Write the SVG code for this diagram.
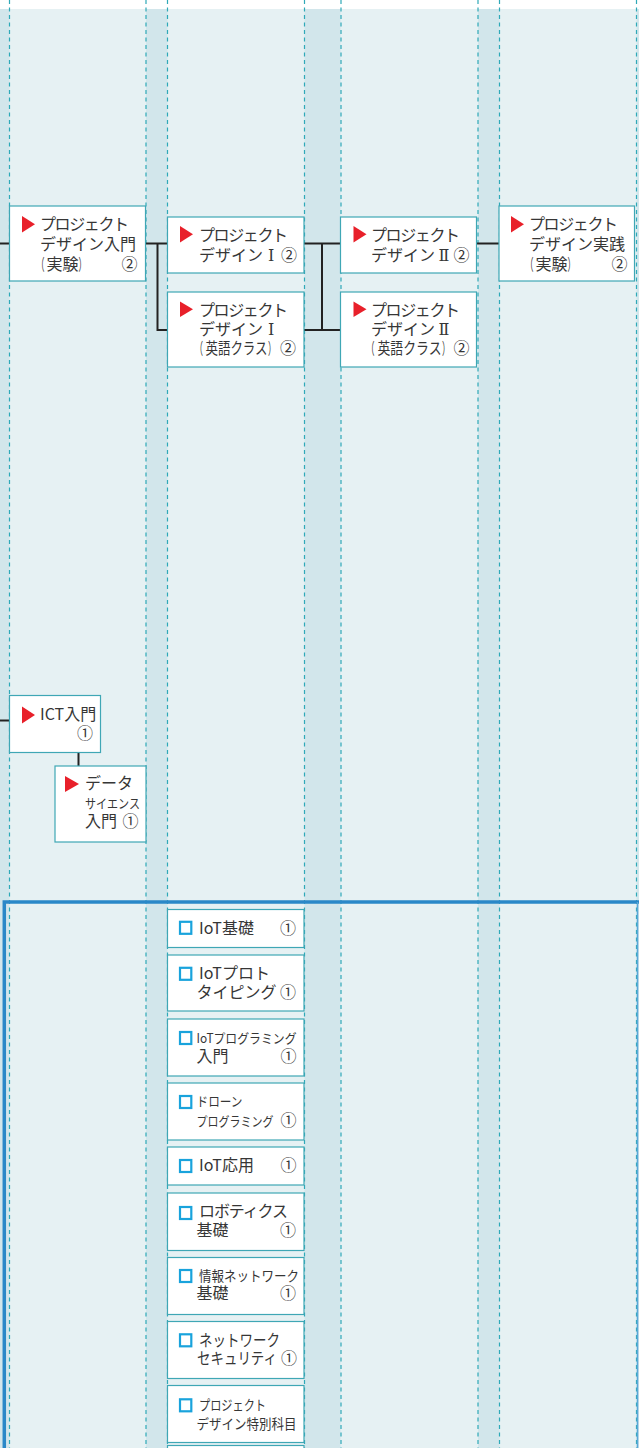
<svg xmlns="http://www.w3.org/2000/svg" width="639" height="1448" viewBox="0 0 639 1448">
<style>
.bg{fill:#e6f1f3}
.strip{fill:#d2e6eb}
.dash{stroke:#2fa9b8;stroke-width:1.2;stroke-dasharray:4 3.5;fill:none}
.box{fill:#fff;stroke:#3fa7b5;stroke-width:1.2}
.tri{fill:#e8202a}
.sq{fill:#fff;stroke:#19a3dc;stroke-width:2.2}
.con{stroke:#222;stroke-width:2;fill:none}
text{font-family:"Noto Sans CJK JP","Noto Sans",sans-serif;fill:#363636;font-size:16px}
.rn{font-family:"DejaVu Serif","Liberation Serif","Noto Sans CJK JP",serif}
.s13{font-size:13px}
.s14{font-size:14px}
.frame{stroke:#2a88c8;stroke-width:3.5;fill:none}
</style>
<g id="background">
<rect class="bg" x="0" y="9" width="639" height="1439"/>
<rect class="strip" x="0" y="9" width="9.5" height="1439"/>
<rect class="strip" x="146" y="9" width="21.5" height="1439"/>
<rect class="strip" x="304.5" y="9" width="36" height="1439"/>
<rect class="strip" x="478" y="9" width="21.5" height="1439"/>
<rect class="strip" x="636.5" y="9" width="2.5" height="1439"/>
<path class="dash" d="M9.5 0V1448M146 0V1448M167.5 0V1448M304.5 0V1448M341 0V1448M478 0V1448M499.5 0V1448M636.5 0V1448"/>
</g>
<g id="frame">
<path class="frame" d="M4.3 902H639M4.3 900.3V1448"/>
<path d="M637.5 902V1448" stroke="#5aa8d8" stroke-width="1.5"/>
</g>
<g id="connectors">
<path class="con" d="M0 243.5H9.5M145.5 243.5H167.5M157.5 243.5V330H167.5M304 243.5H340.5M304 330H340.5M322 243.5V330M476.5 243.5H499M0 720.5H9.5M78.5 752V766"/>
</g>
<g id="n1">
<rect class="box" x="9.5" y="206" width="136" height="75"/>
<path class="tri" d="M22 216L35 224.2L22 232.5Z"/>
<text x="40" y="230" textLength="89">プロジェクト</text>
<text x="40" y="249.5">デザイン入門</text>
<text y="270"><tspan x="36.5" textLength="8" lengthAdjust="spacingAndGlyphs">（</tspan><tspan x="46.5">実験</tspan><tspan x="78.5" textLength="8" lengthAdjust="spacingAndGlyphs">）</tspan></text>
<text x="121.5" y="270">②</text>
</g>
<g id="n2">
<rect class="box" x="167.5" y="217" width="136.5" height="56"/>
<path class="tri" d="M180 226L193 234.2L180 242.5Z"/>
<text x="199" y="241" textLength="89">プロジェクト</text>
<text x="199" y="260.5">デザイン<tspan class="rn" x="268">Ⅰ</tspan></text>
<text x="281" y="260.5">②</text>
</g>
<g id="n3">
<rect class="box" x="167.5" y="292" width="136.5" height="75"/>
<path class="tri" d="M180 301.5L193 309.2L180 317Z"/>
<text x="199" y="315.5" textLength="89">プロジェクト</text>
<text x="199" y="335">デザイン<tspan class="rn" x="268">Ⅰ</tspan></text>
<text y="354"><tspan x="195" textLength="8" lengthAdjust="spacingAndGlyphs">（</tspan><tspan x="205.5" textLength="62" lengthAdjust="spacingAndGlyphs">英語クラス</tspan><tspan x="268" textLength="8" lengthAdjust="spacingAndGlyphs">）</tspan></text>
<text x="280" y="354">②</text>
</g>
<g id="n4">
<rect class="box" x="340.5" y="217" width="136" height="56"/>
<path class="tri" d="M353.5 226L366.5 234.2L353.5 242.5Z"/>
<text x="371" y="241" textLength="89">プロジェクト</text>
<text x="371" y="260.5">デザイン<tspan class="rn" x="438.5">Ⅱ</tspan></text>
<text x="453.5" y="260.5">②</text>
</g>
<g id="n5">
<rect class="box" x="340.5" y="292" width="136" height="75"/>
<path class="tri" d="M353.5 301.5L366.5 309.2L353.5 317Z"/>
<text x="371" y="315.5" textLength="89">プロジェクト</text>
<text x="371" y="335">デザイン<tspan class="rn" x="438.5">Ⅱ</tspan></text>
<text y="354"><tspan x="366.5" textLength="8" lengthAdjust="spacingAndGlyphs">（</tspan><tspan x="377.5" textLength="64" lengthAdjust="spacingAndGlyphs">英語クラス</tspan><tspan x="442" textLength="8" lengthAdjust="spacingAndGlyphs">）</tspan></text>
<text x="453.5" y="354">②</text>
</g>
<g id="n6">
<rect class="box" x="499" y="206" width="135.5" height="75"/>
<path class="tri" d="M511 216L524 224.2L511 232.5Z"/>
<text x="529" y="230" textLength="89">プロジェクト</text>
<text x="529" y="249.5">デザイン実践</text>
<text y="270"><tspan x="525.5" textLength="8" lengthAdjust="spacingAndGlyphs">（</tspan><tspan x="535.5">実験</tspan><tspan x="567.5" textLength="8" lengthAdjust="spacingAndGlyphs">）</tspan></text>
<text x="611.5" y="270">②</text>
</g>
<g id="n7">
<rect class="box" x="9.5" y="695.5" width="91" height="57"/>
<path class="tri" d="M22 706.5L35 715L22 723.5Z"/>
<text x="40" y="719.5">ICT入門</text>
<text x="77" y="739">①</text>
</g>
<g id="n8">
<rect class="box" x="55" y="766" width="91" height="76"/>
<path class="tri" d="M65 776L79 784L65 792Z"/>
<text x="85" y="789">データ</text>
<text class="s13" x="85" y="808" textLength="55" lengthAdjust="spacingAndGlyphs">サイエンス</text>
<text x="85" y="826.5">入門</text>
<text x="122.5" y="826.5">①</text>
</g>
<g id="b1">
<rect class="box" x="167.5" y="909.5" width="136.5" height="38"/>
<rect class="sq" x="180" y="921.8" width="11.3" height="12"/>
<text x="199" y="933.5">IoT基礎</text>
<text x="280" y="933.5">①</text>
</g>
<g id="b2">
<rect class="box" x="167.5" y="955" width="136.5" height="56"/>
<rect class="sq" x="180" y="967.8" width="11.3" height="12"/>
<text x="199" y="978.5">IoTプロト</text>
<text x="196.5" y="998">タイピング</text>
<text x="280" y="998">①</text>
</g>
<g id="b3">
<rect class="box" x="167.5" y="1019" width="136.5" height="57"/>
<rect class="sq" x="180" y="1032" width="11.3" height="12"/>
<text class="s13" x="196.5" y="1042.5" textLength="100" lengthAdjust="spacingAndGlyphs">IoTプログラミング</text>
<text x="196.5" y="1062">入門</text>
<text x="280.5" y="1062">①</text>
</g>
<g id="b4">
<rect class="box" x="167.5" y="1083" width="136.5" height="57"/>
<rect class="sq" x="180" y="1096" width="11.3" height="12"/>
<text class="s13" x="196.5" y="1105.5" textLength="46" lengthAdjust="spacingAndGlyphs">ドローン</text>
<text class="s13" x="196.5" y="1125.5" textLength="77" lengthAdjust="spacingAndGlyphs">プログラミング</text>
<text x="280.5" y="1125.5">①</text>
</g>
<g id="b5">
<rect class="box" x="167.5" y="1147" width="136.5" height="38"/>
<rect class="sq" x="180" y="1160" width="11.3" height="12"/>
<text x="199" y="1171">IoT応用</text>
<text x="280.5" y="1171">①</text>
</g>
<g id="b6">
<rect class="box" x="167.5" y="1193" width="136.5" height="57.5"/>
<rect class="sq" x="180" y="1207" width="11.3" height="12"/>
<text x="199" y="1217" textLength="89">ロボティクス</text>
<text x="196.5" y="1235.5">基礎</text>
<text x="280" y="1235.5">①</text>
</g>
<g id="b7">
<rect class="box" x="167.5" y="1257.5" width="136.5" height="57"/>
<rect class="sq" x="180" y="1270" width="11.3" height="12"/>
<text class="s14" x="199" y="1280.5" textLength="100" lengthAdjust="spacingAndGlyphs">情報ネットワーク</text>
<text x="196.5" y="1299">基礎</text>
<text x="280" y="1299">①</text>
</g>
<g id="b8">
<rect class="box" x="167.5" y="1321.5" width="136.5" height="57"/>
<rect class="sq" x="180" y="1334.3" width="11.3" height="12"/>
<text x="199" y="1345.5" textLength="81" lengthAdjust="spacingAndGlyphs">ネットワーク</text>
<text x="197" y="1364" textLength="80" lengthAdjust="spacingAndGlyphs">セキュリティ</text>
<text x="281" y="1364">①</text>
</g>
<g id="b9">
<rect class="box" x="167.5" y="1385.5" width="136.5" height="57"/>
<rect class="sq" x="180" y="1399.3" width="11.3" height="12"/>
<text class="s14" x="199" y="1409.5" textLength="67" lengthAdjust="spacingAndGlyphs">プロジェクト</text>
<text class="s14" x="196.5" y="1429" textLength="100" lengthAdjust="spacingAndGlyphs">デザイン特別科目</text>
</g>
<g id="b10">
<rect class="box" x="167.5" y="1445.5" width="136.5" height="20"/>
</g>
</svg>
